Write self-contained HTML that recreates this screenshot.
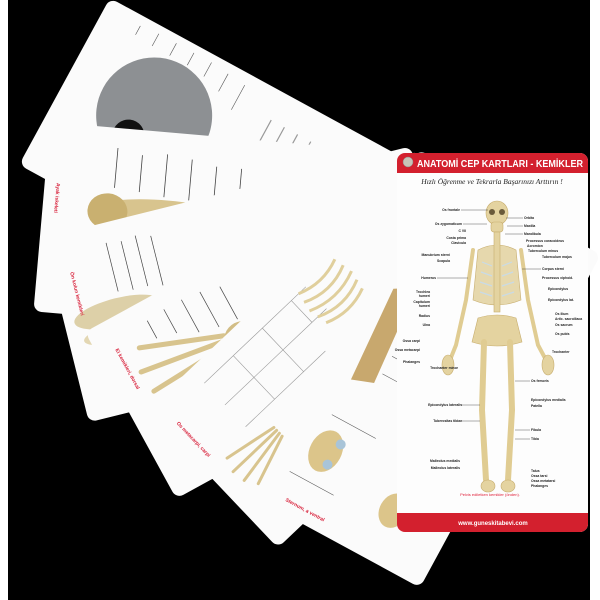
<!DOCTYPE html>
<html><head><meta charset="utf-8"><style>
html,body{margin:0;padding:0;background:#fff;}
svg{display:block;font-family:"Liberation Sans",sans-serif;}
</style></head><body>
<svg width="600" height="600" viewBox="0 0 600 600" xmlns="http://www.w3.org/2000/svg">
<rect x="0" y="0" width="600" height="600" fill="#fff"/>
<rect x="8" y="0" width="582" height="600" fill="#000"/>

<!-- card 1 -->
<g transform="translate(110,-2) rotate(28.6)">
<rect width="379" height="190" rx="8" fill="#fbfbfb"/>
<circle cx="95" cy="82" r="58" fill="#8d9093"/>
<circle cx="82" cy="112" r="16" fill="#111"/>
<ellipse cx="150" cy="95" rx="20" ry="14" fill="#9bb38a"/>
<g stroke="#555" stroke-width="0.6"><line x1="40" y1="20" x2="40" y2="10"/><line x1="60" y1="22" x2="60" y2="8"/><line x1="80" y1="22" x2="80" y2="8"/><line x1="100" y1="22" x2="100" y2="8"/><line x1="120" y1="24" x2="120" y2="8"/><line x1="140" y1="30" x2="140" y2="10"/><line x1="160" y1="40" x2="160" y2="12"/></g>
<g stroke="#999" stroke-width="1.2"><line x1="200" y1="30" x2="200" y2="70"/><line x1="215" y1="30" x2="215" y2="75"/><line x1="230" y1="30" x2="230" y2="70"/><line x1="245" y1="30" x2="245" y2="72"/></g>
<text x="40" y="178" font-size="5" fill="#d8203a" font-weight="bold">Kafa iskeleti (cranium), lateral</text>
</g>

<!-- card 2 -->
<g transform="translate(50,122) rotate(5)">
<rect width="379" height="190" rx="8" fill="#fbfbfb"/>
<ellipse cx="125" cy="82" rx="72" ry="14" fill="#d8c48e"/>
<ellipse cx="65" cy="84" rx="20" ry="18" fill="#c9b070"/>
<g stroke="#444" stroke-width="0.8"><line x1="70" y1="20" x2="70" y2="60"/><line x1="95" y1="25" x2="95" y2="62"/><line x1="120" y1="22" x2="120" y2="65"/><line x1="145" y1="25" x2="145" y2="66"/><line x1="170" y1="30" x2="170" y2="68"/><line x1="195" y1="30" x2="195" y2="70"/></g>
<g stroke="#999" stroke-width="1.2"><line x1="60" y1="120" x2="60" y2="160"/><line x1="75" y1="120" x2="75" y2="165"/><line x1="90" y1="120" x2="90" y2="160"/></g>
<text x="12" y="60" font-size="5" fill="#d8203a" font-weight="bold" transform="rotate(90 12 60)">Ayak iskeleti</text>
</g>

<!-- card 3 -->
<g transform="translate(43,238) rotate(-14)">
<rect width="379" height="190" rx="8" fill="#fbfbfb"/>
<ellipse cx="55" cy="90" rx="45" ry="14" fill="#ddd0a8"/>
<ellipse cx="55" cy="110" rx="40" ry="10" fill="#e3d7b3"/>
<g stroke="#444" stroke-width="0.7"><line x1="60" y1="20" x2="60" y2="70"/><line x1="75" y1="22" x2="75" y2="72"/><line x1="90" y1="20" x2="90" y2="72"/><line x1="105" y1="24" x2="105" y2="75"/></g>
<text x="18" y="40" font-size="5" fill="#d8203a" font-weight="bold" transform="rotate(90 18 40)">Ön kolun kemikleri</text>
</g>

<!-- card 4 -->
<g transform="translate(85,332) rotate(-28.7)">
<rect width="379" height="190" rx="8" fill="#fbfbfb"/>
<g stroke="#d8c48e" stroke-width="5" stroke-linecap="round">
<line x1="120" y1="70" x2="40" y2="40"/><line x1="120" y1="75" x2="30" y2="62"/><line x1="120" y1="80" x2="32" y2="85"/><line x1="120" y1="85" x2="40" y2="108"/><line x1="125" y1="90" x2="75" y2="128"/></g>
<ellipse cx="135" cy="80" rx="18" ry="16" fill="#d2bd85"/>
<g stroke="#444" stroke-width="0.7"><line x1="60" y1="20" x2="60" y2="40"/><line x1="80" y1="18" x2="80" y2="45"/><line x1="100" y1="18" x2="100" y2="55"/><line x1="120" y1="20" x2="120" y2="60"/><line x1="140" y1="25" x2="140" y2="62"/></g>
<text x="18" y="30" font-size="5" fill="#d8203a" font-weight="bold" transform="rotate(90 18 30)">El kemikleri, dorsal</text>
</g>

<!-- card 5 -->
<g transform="translate(147,410) rotate(-43.5)">
<rect width="379" height="190" rx="8" fill="#fbfbfb"/>
<g stroke="#999" stroke-width="0.6" fill="none">
<line x1="60" y1="20" x2="200" y2="20"/><line x1="60" y1="50" x2="200" y2="50"/><line x1="60" y1="80" x2="170" y2="80"/><line x1="100" y1="20" x2="100" y2="80"/><line x1="140" y1="20" x2="140" y2="80"/><line x1="180" y1="20" x2="180" y2="50"/></g>
<g stroke="#d8c48e" stroke-width="3" stroke-linecap="round">
<line x1="80" y1="100" x2="25" y2="90"/><line x1="80" y1="104" x2="20" y2="104"/><line x1="80" y1="108" x2="22" y2="118"/><line x1="80" y1="112" x2="30" y2="130"/></g>
<g stroke="#e0cf9c" stroke-width="3">
<path d="M190 20 q25 10 50 0 M188 30 q27 12 54 0 M186 40 q29 12 58 0 M188 50 q27 12 54 0 M190 60 q25 10 50 0" fill="none"/></g>
<text x="12" y="30" font-size="5" fill="#d8203a" font-weight="bold" transform="rotate(90 12 30)">Os metacarpi, carpi</text>
</g>

<!-- card 6 -->
<g transform="translate(253,497) rotate(-61.5)">
<rect width="379" height="190" rx="8" fill="#fbfbfb"/>
<ellipse cx="75" cy="42" rx="22" ry="16" fill="#dcc58a"/>
<circle cx="64" cy="50" r="5" fill="#a8c4d8"/><circle cx="88" cy="52" r="5" fill="#a8c4d8"/>
<ellipse cx="55" cy="130" rx="18" ry="14" fill="#dcc58a"/>
<path d="M150 30 L250 24 L262 44 L158 52 Z" fill="#c8a86e"/>
<g stroke="#555" stroke-width="0.5"><line x1="40" y1="20" x2="40" y2="70"/><line x1="110" y1="30" x2="110" y2="80"/><line x1="170" y1="55" x2="170" y2="95"/><line x1="190" y1="55" x2="190" y2="95"/><line x1="210" y1="52" x2="210" y2="95"/><line x1="230" y1="50" x2="230" y2="92"/></g>
<text x="12" y="30" font-size="5" fill="#d8203a" font-weight="bold" transform="rotate(90 12 30)">Sternum, a ventral</text>
</g>

<!-- front card -->
<g>
<rect x="397" y="153" width="191" height="379" rx="8" fill="#fdfdfd"/>
<path d="M405 153 H580 a8 8 0 0 1 8 8 V173 H397 V161 a8 8 0 0 1 8 -8 Z" fill="#d3202e"/>
<circle cx="408" cy="162" r="5" fill="#c8c4b8" stroke="#888" stroke-width="0.5"/>
<text x="417" y="167" font-size="10" font-weight="bold" fill="#fff" textLength="166" lengthAdjust="spacingAndGlyphs">ANATOMİ CEP KARTLARI - KEMİKLER</text>
<text x="492" y="184" font-size="7.5" font-style="italic" font-family="Liberation Serif, serif" fill="#222" text-anchor="middle">Hızlı Öğrenme ve Tekrarla Başarınızı Arttırın !</text>
<path d="M397 513 H588 V524 a8 8 0 0 1 -8 8 H405 a8 8 0 0 1 -8 -8 Z" fill="#d3202e"/>
<text x="493" y="525" font-size="6" font-weight="bold" fill="#fff" text-anchor="middle">www.guneskitabevi.com</text>
<text x="490" y="496" font-size="4" fill="#e0203a" text-anchor="middle">Pelvis ediletken kemikler (önden).</text>

<!-- skeleton -->
<g fill="#e4d3a0" stroke="#c7ad6e" stroke-width="0.6">
<ellipse cx="497" cy="213" rx="11" ry="12"/>
<rect x="491" y="222" width="12" height="10" rx="3"/>
<path d="M478 250 Q497 240 516 250 L521 300 Q497 310 473 300 Z" fill="#e6d8ad"/>
<rect x="494" y="232" width="6" height="80"/>
<path d="M478 318 Q497 312 516 318 L522 342 Q497 350 472 342 Z"/>
<path d="M473 250 L466 300 L456 345 L450 360" fill="none" stroke="#e0cc92" stroke-width="4" stroke-linecap="round"/>
<path d="M521 250 L528 300 L538 345 L546 360" fill="none" stroke="#e0cc92" stroke-width="4" stroke-linecap="round"/>
<path d="M484 342 L482 410 L486 480" fill="none" stroke="#e0cc92" stroke-width="6" stroke-linecap="round"/>
<path d="M510 342 L512 410 L508 480" fill="none" stroke="#e0cc92" stroke-width="6" stroke-linecap="round"/>
<ellipse cx="488" cy="486" rx="7" ry="6"/>
<ellipse cx="508" cy="486" rx="7" ry="6"/>
<ellipse cx="448" cy="365" rx="6" ry="10"/>
<ellipse cx="548" cy="365" rx="6" ry="10"/>
</g>
<g stroke="#c9dbe6" stroke-width="1.2" fill="none">
<path d="M482 262 L492 266 M481 272 L492 276 M480 282 L492 286 M480 292 L492 296 M512 262 L502 266 M513 272 L502 276 M514 282 L502 286 M514 292 L502 296"/>
</g>
<circle cx="492" cy="212" r="3" fill="#6a5a3a"/><circle cx="502" cy="212" r="3" fill="#6a5a3a"/>

<!-- labels -->
<g font-size="3.4" fill="#222" font-weight="bold">
<text x="460" y="211" text-anchor="end">Os frontale</text>
<text x="462" y="225" text-anchor="end">Os zygomaticum</text>
<text x="466" y="232" text-anchor="end">C VII</text>
<text x="466" y="239" text-anchor="end">Costa prima</text>
<text x="466" y="244" text-anchor="end">Clavicula</text>
<text x="450" y="256" text-anchor="end">Manubrium sterni</text>
<text x="450" y="262" text-anchor="end">Scapula</text>
<text x="436" y="279" text-anchor="end">Humerus</text>
<text x="430" y="293" text-anchor="end">Trochlea</text>
<text x="430" y="297" text-anchor="end">humeri</text>
<text x="430" y="303" text-anchor="end">Capitulum</text>
<text x="430" y="307" text-anchor="end">humeri</text>
<text x="430" y="317" text-anchor="end">Radius</text>
<text x="430" y="326" text-anchor="end">Ulna</text>
<text x="420" y="342" text-anchor="end">Ossa carpi</text>
<text x="420" y="351" text-anchor="end">Ossa metacarpi</text>
<text x="420" y="363" text-anchor="end">Phalanges</text>
<text x="458" y="369" text-anchor="end">Trochanter minor</text>
<text x="462" y="406" text-anchor="end">Epicondylus lateralis</text>
<text x="462" y="422" text-anchor="end">Tuberositas tibiae</text>
<text x="460" y="462" text-anchor="end">Malleolus medialis</text>
<text x="460" y="469" text-anchor="end">Malleolus lateralis</text>
<text x="524" y="219">Orbita</text>
<text x="524" y="227">Maxilla</text>
<text x="524" y="235">Mandibula</text>
<text x="526" y="242">Processus coracoideus</text>
<text x="527" y="247">Acromion</text>
<text x="528" y="252">Tuberculum minus</text>
<text x="542" y="258">Tuberculum majus</text>
<text x="542" y="270">Corpus sterni</text>
<text x="542" y="279">Processus xiphoid.</text>
<text x="548" y="290">Epicondylus</text>
<text x="548" y="301">Epicondylus lat.</text>
<text x="555" y="315">Os ilium</text>
<text x="555" y="320">Artic. sacroiliaca</text>
<text x="555" y="326">Os sacrum</text>
<text x="555" y="335">Os pubis</text>
<text x="552" y="353">Trochanter</text>
<text x="531" y="382">Os femoris</text>
<text x="531" y="401">Epicondylus medialis</text>
<text x="531" y="407">Patella</text>
<text x="531" y="431">Fibula</text>
<text x="531" y="440">Tibia</text>
<text x="531" y="472">Talus</text>
<text x="531" y="477">Ossa tarsi</text>
<text x="531" y="482">Ossa metatarsi</text>
<text x="531" y="487">Phalanges</text>
</g>
<g stroke="#333" stroke-width="0.4">
<line x1="461" y1="210" x2="488" y2="210"/><line x1="463" y1="224" x2="487" y2="224"/>
<line x1="506" y1="218" x2="523" y2="218"/><line x1="507" y1="226" x2="523" y2="226"/><line x1="505" y1="234" x2="523" y2="234"/>
<line x1="437" y1="278" x2="468" y2="278"/><line x1="522" y1="269" x2="541" y2="269"/>
<line x1="515" y1="381" x2="530" y2="381"/><line x1="515" y1="430" x2="530" y2="430"/><line x1="515" y1="439" x2="530" y2="439"/>
<line x1="461" y1="405" x2="480" y2="405"/><line x1="461" y1="421" x2="480" y2="421"/>
</g>
</g>
</svg>
</body></html>
